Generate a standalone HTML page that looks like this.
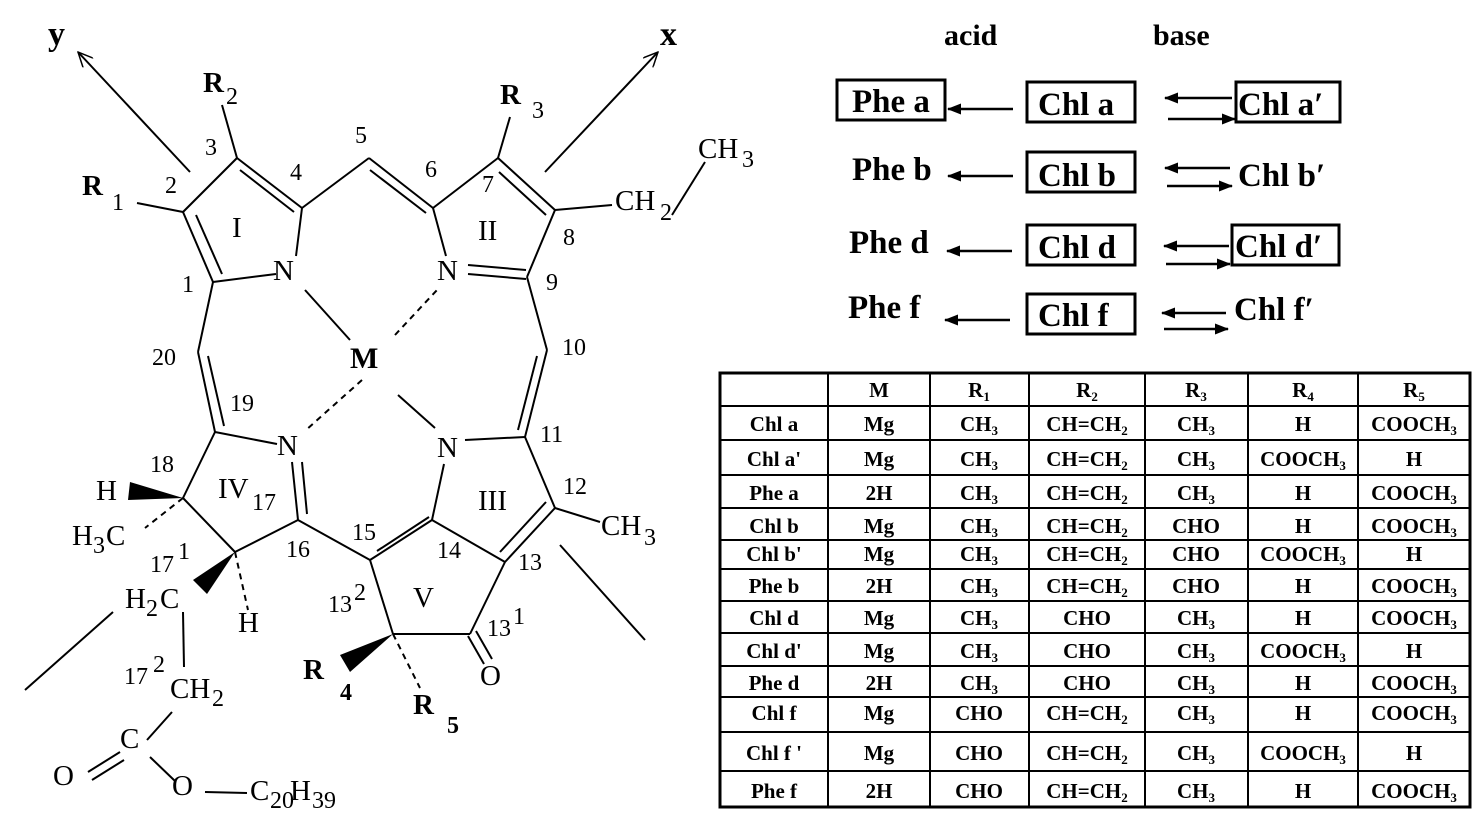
<!DOCTYPE html>
<html><head><meta charset="utf-8"><style>
body{margin:0;background:#fff;}
svg{display:block;}
.n{font-family:"Liberation Serif",serif;font-size:24px;fill:#000;}
.a{font-family:"Liberation Serif",serif;font-size:29px;fill:#000;}
.b{font-family:"Liberation Serif",serif;font-weight:bold;fill:#000;}
.t{font-family:"Liberation Serif",serif;font-weight:bold;font-size:21px;fill:#000;}
</style></head><body>
<svg width="1478" height="828" viewBox="0 0 1478 828" xmlns="http://www.w3.org/2000/svg">
<defs>
<marker id="ah" markerWidth="14" markerHeight="11" refX="13" refY="5.5" orient="auto" markerUnits="userSpaceOnUse"><path d="M0,0 L14,5.5 L0,11 Z" fill="#000"/></marker>
<marker id="ao" markerWidth="16" markerHeight="14" refX="15" refY="7" orient="auto" markerUnits="userSpaceOnUse"><path d="M0,0 L15,7 L0,14" fill="none" stroke="#000" stroke-width="1.5"/></marker>
</defs>
<g stroke="#000" stroke-width="2" fill="none">
<line x1="190" y1="172" x2="78" y2="52" marker-end="url(#ao)"/>
<line x1="545" y1="172" x2="658" y2="52" marker-end="url(#ao)"/>
<line x1="222" y1="105" x2="237" y2="158"/>
<line x1="510" y1="117" x2="498" y2="158"/>
<line x1="137" y1="203" x2="183" y2="212"/>
<line x1="213" y1="282" x2="183" y2="212"/><line x1="222" y1="274" x2="196" y2="215"/>
<line x1="183" y1="212" x2="237" y2="158"/>
<line x1="237" y1="158" x2="302" y2="208"/><line x1="240" y1="170" x2="294" y2="212"/>
<line x1="302" y1="208" x2="296" y2="256"/>
<line x1="276" y1="274" x2="213" y2="282"/>
<line x1="302" y1="208" x2="369" y2="158"/>
<line x1="369" y1="158" x2="433" y2="208"/><line x1="370" y1="170" x2="426" y2="213"/>
<line x1="433" y1="208" x2="498" y2="158"/>
<line x1="498" y1="158" x2="555" y2="210"/><line x1="499" y1="172" x2="546" y2="215"/>
<line x1="555" y1="210" x2="527" y2="277"/>
<line x1="433" y1="208" x2="446" y2="256"/>
<line x1="468" y1="265" x2="526" y2="270"/><line x1="468" y1="274" x2="526" y2="279"/>
<line x1="555" y1="210" x2="612" y2="205"/>
<line x1="672" y1="215" x2="705" y2="162"/>
<line x1="305" y1="290" x2="350" y2="340"/>
<line x1="395" y1="335" x2="437" y2="290" stroke-dasharray="6,5"/>
<line x1="362" y1="380" x2="306" y2="430" stroke-dasharray="6,5"/>
<line x1="398" y1="395" x2="435" y2="428"/>
<line x1="527" y1="277" x2="547" y2="350"/>
<line x1="547" y1="350" x2="525" y2="437"/><line x1="537" y1="356" x2="518" y2="430"/>
<line x1="465" y1="440" x2="525" y2="437"/>
<line x1="525" y1="437" x2="555" y2="508"/>
<line x1="555" y1="508" x2="505" y2="562"/><line x1="546" y1="502" x2="500" y2="552"/>
<line x1="505" y1="562" x2="432" y2="520"/>
<line x1="432" y1="520" x2="444" y2="464"/>
<line x1="555" y1="508" x2="600" y2="522"/>
<line x1="213" y1="282" x2="198" y2="352"/>
<line x1="198" y1="352" x2="215" y2="432"/><line x1="208" y1="356" x2="224" y2="426"/>
<line x1="215" y1="432" x2="277" y2="444"/>
<line x1="292" y1="462" x2="298" y2="520"/><line x1="302" y1="462" x2="307" y2="514"/>
<line x1="298" y1="520" x2="235" y2="552"/>
<line x1="235" y1="552" x2="183" y2="498"/>
<line x1="183" y1="498" x2="215" y2="432"/>
<line x1="298" y1="520" x2="370" y2="560"/>
<line x1="370" y1="560" x2="432" y2="520"/><line x1="377" y1="551" x2="429" y2="517"/>
<line x1="505" y1="562" x2="470" y2="634"/>
<line x1="470" y1="634" x2="393" y2="634"/>
<line x1="393" y1="634" x2="370" y2="560"/>
<line x1="468" y1="636" x2="484" y2="664"/><line x1="476" y1="631" x2="492" y2="659"/>
<line x1="393" y1="634" x2="420" y2="688" stroke-dasharray="6,5"/>
<line x1="183" y1="498" x2="145" y2="528" stroke-dasharray="6,5"/>
<line x1="235" y1="552" x2="248" y2="610" stroke-dasharray="6,5"/>
<line x1="183" y1="612" x2="184" y2="667"/>
<line x1="172" y1="712" x2="147" y2="740"/>
<line x1="120" y1="752" x2="88" y2="772"/><line x1="124" y1="760" x2="92" y2="780"/>
<line x1="150" y1="757" x2="175" y2="781"/>
<line x1="205" y1="792" x2="247" y2="793"/>
<line x1="25" y1="690" x2="113" y2="612"/>
<line x1="560" y1="545" x2="645" y2="640"/>
</g>
<g fill="#000">
<polygon points="393,634 340,655 350,672"/>
<polygon points="183,498 130,482 128,500"/>
<polygon points="235,552 193,580 207,594"/>
</g>
<text class="b" x="48" y="45" font-size="34">y</text>
<text class="b" x="660" y="45" font-size="34">x</text>
<text class="a" x="203" y="92" font-weight="bold">R</text><text class="n" x="226" y="104">2</text>
<text class="a" x="500" y="104" font-weight="bold">R</text><text class="n" x="532" y="118">3</text>
<text class="a" x="82" y="195" font-weight="bold">R</text><text class="n" x="112" y="210">1</text>
<text class="n" x="165" y="193">2</text>
<text class="n" x="205" y="155">3</text>
<text class="n" x="290" y="180">4</text>
<text class="n" x="355" y="143">5</text>
<text class="n" x="425" y="177">6</text>
<text class="n" x="482" y="192">7</text>
<text class="n" x="563" y="245">8</text>
<text class="n" x="546" y="290">9</text>
<text class="n" x="182" y="292">1</text>
<text class="a" x="232" y="237">I</text>
<text class="a" x="478" y="240">II</text>
<text class="a" x="273" y="280">N</text>
<text class="a" x="437" y="280">N</text>
<text class="a" x="698" y="158">CH</text><text class="n" x="742" y="167">3</text>
<text class="a" x="615" y="210">CH</text><text class="n" x="660" y="220">2</text>
<text class="b" x="350" y="368" font-size="30">M</text>
<text class="n" x="152" y="365">20</text>
<text class="n" x="562" y="355">10</text>
<text class="n" x="230" y="411">19</text>
<text class="n" x="540" y="442">11</text>
<text class="n" x="563" y="494">12</text>
<text class="a" x="277" y="455">N</text>
<text class="a" x="437" y="457">N</text>
<text class="a" x="218" y="498">IV</text>
<text class="a" x="478" y="510">III</text>
<text class="n" x="150" y="472">18</text>
<text class="n" x="252" y="510">17</text>
<text class="n" x="286" y="557">16</text>
<text class="n" x="352" y="540">15</text>
<text class="n" x="437" y="558">14</text>
<text class="n" x="518" y="570">13</text>
<text class="a" x="601" y="535">CH</text><text class="n" x="644" y="545">3</text>
<text class="a" x="96" y="500">H</text>
<text class="a" x="72" y="545">H</text><text class="n" x="93" y="553">3</text><text class="a" x="106" y="545">C</text>
<text class="n" x="150" y="572">17</text><text class="n" x="178" y="559" font-size="18">1</text>
<text class="a" x="125" y="608">H</text><text class="n" x="146" y="616">2</text><text class="a" x="160" y="608">C</text>
<text class="a" x="238" y="632">H</text>
<text class="n" x="328" y="612">13</text><text class="n" x="354" y="600" font-size="18">2</text>
<text class="a" x="413" y="607">V</text>
<text class="n" x="487" y="636">13</text><text class="n" x="513" y="624" font-size="18">1</text>
<text class="a" x="480" y="685">O</text>
<text class="a" x="303" y="679" font-weight="bold">R</text><text class="n" x="340" y="700" font-weight="bold">4</text>
<text class="a" x="413" y="714" font-weight="bold">R</text><text class="n" x="447" y="733" font-weight="bold">5</text>
<text class="n" x="124" y="684">17</text><text class="n" x="153" y="672" font-size="18">2</text>
<text class="a" x="170" y="698">CH</text><text class="n" x="212" y="706">2</text>
<text class="a" x="120" y="748">C</text>
<text class="a" x="53" y="785">O</text>
<text class="a" x="172" y="795">O</text>
<text class="a" x="250" y="800">C</text><text class="n" x="270" y="808" font-size="18">20</text><text class="a" x="290" y="800">H</text><text class="n" x="312" y="808" font-size="18">39</text>
<text class="b" x="944" y="45" font-size="30">acid</text>
<text class="b" x="1153" y="45" font-size="30">base</text>
<g stroke="#000" stroke-width="3" fill="none">
<rect x="837" y="80" width="108" height="40"/>
<rect x="1027" y="82" width="108" height="40"/>
<rect x="1236" y="82" width="104" height="40"/>
<rect x="1027" y="152" width="108" height="40"/>
<rect x="1027" y="225" width="108" height="40"/>
<rect x="1232" y="225" width="107" height="40"/>
<rect x="1027" y="294" width="108" height="40"/>
</g>
<g stroke="#000" stroke-width="2.5">
<line x1="1013" y1="109" x2="948" y2="109" marker-end="url(#ah)"/>
<line x1="1013" y1="176" x2="948" y2="176" marker-end="url(#ah)"/>
<line x1="1012" y1="251" x2="947" y2="251" marker-end="url(#ah)"/>
<line x1="1010" y1="320" x2="945" y2="320" marker-end="url(#ah)"/>
<line x1="1232" y1="98" x2="1165" y2="98" marker-end="url(#ah)"/>
<line x1="1168" y1="119" x2="1235" y2="119" marker-end="url(#ah)"/>
<line x1="1230" y1="168" x2="1165" y2="168" marker-end="url(#ah)"/>
<line x1="1167" y1="186" x2="1232" y2="186" marker-end="url(#ah)"/>
<line x1="1229" y1="246" x2="1164" y2="246" marker-end="url(#ah)"/>
<line x1="1166" y1="264" x2="1230" y2="264" marker-end="url(#ah)"/>
<line x1="1226" y1="313" x2="1162" y2="313" marker-end="url(#ah)"/>
<line x1="1164" y1="329" x2="1228" y2="329" marker-end="url(#ah)"/>
</g>
<g class="b" font-size="33">
<text x="852" y="112">Phe a</text>
<text x="1038" y="115">Chl a</text>
<text x="1238" y="115">Chl a′</text>
<text x="852" y="180">Phe b</text>
<text x="1038" y="186">Chl b</text>
<text x="1238" y="186">Chl b′</text>
<text x="849" y="253">Phe d</text>
<text x="1038" y="258">Chl d</text>
<text x="1235" y="257">Chl d′</text>
<text x="848" y="318">Phe f</text>
<text x="1038" y="326">Chl f</text>
<text x="1234" y="320">Chl f′</text>
</g>
<g stroke="#000" stroke-width="2" fill="none">
<rect x="720" y="373" width="750" height="434" stroke-width="3"/>
<line x1="828" y1="373" x2="828" y2="807"/>
<line x1="930" y1="373" x2="930" y2="807"/>
<line x1="1029" y1="373" x2="1029" y2="807"/>
<line x1="1145" y1="373" x2="1145" y2="807"/>
<line x1="1248" y1="373" x2="1248" y2="807"/>
<line x1="1358" y1="373" x2="1358" y2="807"/>
<line x1="720" y1="406" x2="1470" y2="406"/>
<line x1="720" y1="440" x2="1470" y2="440"/>
<line x1="720" y1="475" x2="1470" y2="475"/>
<line x1="720" y1="508" x2="1470" y2="508"/>
<line x1="720" y1="540" x2="1470" y2="540"/>
<line x1="720" y1="569" x2="1470" y2="569"/>
<line x1="720" y1="601" x2="1470" y2="601"/>
<line x1="720" y1="633" x2="1470" y2="633"/>
<line x1="720" y1="666" x2="1470" y2="666"/>
<line x1="720" y1="697" x2="1470" y2="697"/>
<line x1="720" y1="732" x2="1470" y2="732"/>
<line x1="720" y1="771" x2="1470" y2="771"/>
</g>
<g class="t" text-anchor="middle">
<text x="879" y="397">M</text><text x="979" y="397">R<tspan font-size="13" dy="4">1</tspan></text><text x="1087" y="397">R<tspan font-size="13" dy="4">2</tspan></text><text x="1196" y="397">R<tspan font-size="13" dy="4">3</tspan></text><text x="1303" y="397">R<tspan font-size="13" dy="4">4</tspan></text><text x="1414" y="397">R<tspan font-size="13" dy="4">5</tspan></text>
</g>
<g class="t" text-anchor="middle">
<text x="774" y="431">Chl a</text><text x="879" y="431">Mg</text><text x="979" y="431">CH<tspan font-size="13" dy="4">3</tspan></text><text x="1087" y="431">CH=CH<tspan font-size="13" dy="4">2</tspan></text><text x="1196" y="431">CH<tspan font-size="13" dy="4">3</tspan></text><text x="1303" y="431">H</text><text x="1414" y="431">COOCH<tspan font-size="13" dy="4">3</tspan></text>
<text x="774" y="466">Chl a'</text><text x="879" y="466">Mg</text><text x="979" y="466">CH<tspan font-size="13" dy="4">3</tspan></text><text x="1087" y="466">CH=CH<tspan font-size="13" dy="4">2</tspan></text><text x="1196" y="466">CH<tspan font-size="13" dy="4">3</tspan></text><text x="1303" y="466">COOCH<tspan font-size="13" dy="4">3</tspan></text><text x="1414" y="466">H</text>
<text x="774" y="500">Phe a</text><text x="879" y="500">2H</text><text x="979" y="500">CH<tspan font-size="13" dy="4">3</tspan></text><text x="1087" y="500">CH=CH<tspan font-size="13" dy="4">2</tspan></text><text x="1196" y="500">CH<tspan font-size="13" dy="4">3</tspan></text><text x="1303" y="500">H</text><text x="1414" y="500">COOCH<tspan font-size="13" dy="4">3</tspan></text>
<text x="774" y="533">Chl b</text><text x="879" y="533">Mg</text><text x="979" y="533">CH<tspan font-size="13" dy="4">3</tspan></text><text x="1087" y="533">CH=CH<tspan font-size="13" dy="4">2</tspan></text><text x="1196" y="533">CHO</text><text x="1303" y="533">H</text><text x="1414" y="533">COOCH<tspan font-size="13" dy="4">3</tspan></text>
<text x="774" y="561">Chl b'</text><text x="879" y="561">Mg</text><text x="979" y="561">CH<tspan font-size="13" dy="4">3</tspan></text><text x="1087" y="561">CH=CH<tspan font-size="13" dy="4">2</tspan></text><text x="1196" y="561">CHO</text><text x="1303" y="561">COOCH<tspan font-size="13" dy="4">3</tspan></text><text x="1414" y="561">H</text>
<text x="774" y="593">Phe b</text><text x="879" y="593">2H</text><text x="979" y="593">CH<tspan font-size="13" dy="4">3</tspan></text><text x="1087" y="593">CH=CH<tspan font-size="13" dy="4">2</tspan></text><text x="1196" y="593">CHO</text><text x="1303" y="593">H</text><text x="1414" y="593">COOCH<tspan font-size="13" dy="4">3</tspan></text>
<text x="774" y="625">Chl d</text><text x="879" y="625">Mg</text><text x="979" y="625">CH<tspan font-size="13" dy="4">3</tspan></text><text x="1087" y="625">CHO</text><text x="1196" y="625">CH<tspan font-size="13" dy="4">3</tspan></text><text x="1303" y="625">H</text><text x="1414" y="625">COOCH<tspan font-size="13" dy="4">3</tspan></text>
<text x="774" y="658">Chl d'</text><text x="879" y="658">Mg</text><text x="979" y="658">CH<tspan font-size="13" dy="4">3</tspan></text><text x="1087" y="658">CHO</text><text x="1196" y="658">CH<tspan font-size="13" dy="4">3</tspan></text><text x="1303" y="658">COOCH<tspan font-size="13" dy="4">3</tspan></text><text x="1414" y="658">H</text>
<text x="774" y="690">Phe d</text><text x="879" y="690">2H</text><text x="979" y="690">CH<tspan font-size="13" dy="4">3</tspan></text><text x="1087" y="690">CHO</text><text x="1196" y="690">CH<tspan font-size="13" dy="4">3</tspan></text><text x="1303" y="690">H</text><text x="1414" y="690">COOCH<tspan font-size="13" dy="4">3</tspan></text>
<text x="774" y="720">Chl f</text><text x="879" y="720">Mg</text><text x="979" y="720">CHO</text><text x="1087" y="720">CH=CH<tspan font-size="13" dy="4">2</tspan></text><text x="1196" y="720">CH<tspan font-size="13" dy="4">3</tspan></text><text x="1303" y="720">H</text><text x="1414" y="720">COOCH<tspan font-size="13" dy="4">3</tspan></text>
<text x="774" y="760">Chl f '</text><text x="879" y="760">Mg</text><text x="979" y="760">CHO</text><text x="1087" y="760">CH=CH<tspan font-size="13" dy="4">2</tspan></text><text x="1196" y="760">CH<tspan font-size="13" dy="4">3</tspan></text><text x="1303" y="760">COOCH<tspan font-size="13" dy="4">3</tspan></text><text x="1414" y="760">H</text>
<text x="774" y="798">Phe f</text><text x="879" y="798">2H</text><text x="979" y="798">CHO</text><text x="1087" y="798">CH=CH<tspan font-size="13" dy="4">2</tspan></text><text x="1196" y="798">CH<tspan font-size="13" dy="4">3</tspan></text><text x="1303" y="798">H</text><text x="1414" y="798">COOCH<tspan font-size="13" dy="4">3</tspan></text>
</g>
</svg>
</body></html>
